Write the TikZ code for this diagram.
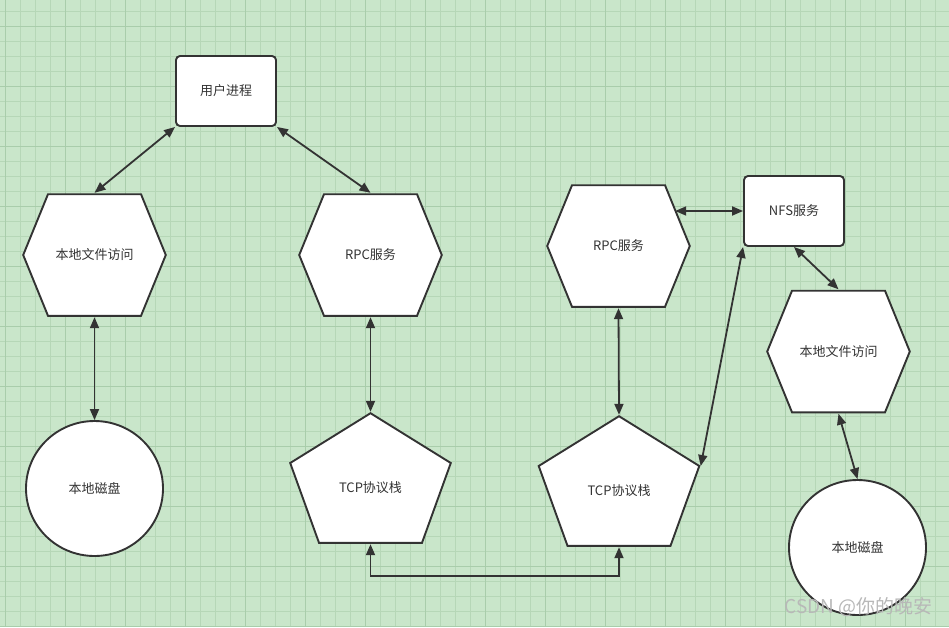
\documentclass[tikz,border=0pt]{standalone}
\usepackage{fontspec}
\setmainfont{Noto Sans CJK SC}
\usetikzlibrary{arrows.meta,calc,shapes.geometric}
\definecolor{cBg}{HTML}{C9E6CA}
\definecolor{cGrid}{HTML}{B6D7B7}
\definecolor{cMajor}{HTML}{A9CDAB}
\definecolor{cInk}{HTML}{333333}
\definecolor{cMark}{HTML}{B8B8B8}
\tikzset{
  lbl/.style={text=cInk,font=\fontsize{13}{16}\selectfont},
  procbox/.style={lbl,draw=cInk,line width=1.9pt,fill=white,rounded corners=4pt,
              minimum width=100pt,minimum height=70pt,inner sep=0pt},
  diskbox/.style={lbl,draw=cInk,line width=1.9pt,fill=white,ellipse,
              minimum width=137pt,minimum height=135pt,inner sep=0pt},
  hexbox/.style={lbl,minimum width=145pt,minimum height=124pt,inner sep=0pt,
    path picture={\draw[cInk,line width=1.9pt,fill=white]
      ($(path picture bounding box.west)+(1.2pt,0pt)$)
      -- ($(path picture bounding box.north west)+(26pt,-1.2pt)$)
      -- ($(path picture bounding box.north east)+(-26pt,-1.2pt)$)
      -- ($(path picture bounding box.east)+(-1.2pt,0pt)$)
      -- ($(path picture bounding box.south east)+(-26pt,1.2pt)$)
      -- ($(path picture bounding box.south west)+(26pt,1.2pt)$) -- cycle;}},
  pentbox/.style={lbl,minimum width=163pt,minimum height=132pt,inner sep=0pt,
    text height=28pt,text depth=0pt,
    path picture={\draw[cInk,line width=1.9pt,fill=white]
      ($(path picture bounding box.north)+(0pt,-1.2pt)$)
      -- ($(path picture bounding box.north east)+(-1.2pt,-51pt)$)
      -- ($(path picture bounding box.south east)+(-30pt,1.2pt)$)
      -- ($(path picture bounding box.south west)+(30pt,1.2pt)$)
      -- ($(path picture bounding box.north west)+(1.2pt,-51pt)$) -- cycle;}},
  link/.style={{Triangle[length=11pt,width=9pt]}-{Triangle[length=11pt,width=9pt]},
              draw=cInk,line width=1.8pt},
  wmark/.style={text=cMark,font=\fontsize{19}{22}\selectfont},
}

\begin{document}
\begin{tikzpicture}[x=1pt,y=-1pt]
  \useasboundingbox (0,0) rectangle (949,627);
  % grid paper
  \fill[cBg] (0,0) rectangle (949,627);
  \foreach \gx in {5,20,...,950} \draw[cGrid,line width=0.8pt] (\gx,0) -- (\gx,627);
  \foreach \gy in {11,26,...,626} \draw[cGrid,line width=0.8pt] (0,\gy) -- (949,\gy);
  \foreach \gx in {5,65,...,905} \draw[cMajor,line width=0.9pt] (\gx,0) -- (\gx,627);
  \foreach \gy in {26,86,...,626} \draw[cMajor,line width=0.9pt] (0,\gy) -- (949,\gy);

  % client side
  \node[procbox] (user) at (226,91) {用户进程};
  \node[hexbox] (fileL) at (94.5,255) {本地文件访问};
  \node[hexbox] (rpcL) at (370.5,255) {RPC服务};
  \node[diskbox] (diskL) at (94.5,488.5) {本地磁盘};
  \node[pentbox] (tcpL) at (370.5,478) {TCP协议栈};
  % server side
  \node[hexbox] (rpcR) at (618.5,246) {RPC服务};
  \node[pentbox] (tcpR) at (619,481) {TCP协议栈};
  \node[procbox] (nfs) at (794,211) {NFS服务};
  \node[hexbox] (fileR) at (838.5,351.5) {本地文件访问};
  \node[diskbox] (diskR) at (857.5,547.5) {本地磁盘};

  \draw[link] (user.south west) -- (fileL.north);
  \draw[link] (user.south east) -- (rpcL.north);
  \draw[link] (fileL.south) -- (diskL.north);
  \draw[link] (rpcL.south) -- (tcpL.north);
  \draw[link] (tcpL.south) -- ++(0,32) -| (tcpR.south);
  \draw[link] (rpcR.south) -- (tcpR.north);
  \draw[link] ([xshift=-16pt]nfs.west -| rpcR.east) -- (nfs.west);
  \draw[link] ([yshift=15pt]tcpR.east) -- (nfs.south west);
  \draw[link] (nfs.south) -- (fileR.north);
  \draw[link] (fileR.south) -- (diskR.north);

  \node[wmark] (csdn) at (858.5,607) {CSDN @你的晚安};
\end{tikzpicture}
\end{document}
